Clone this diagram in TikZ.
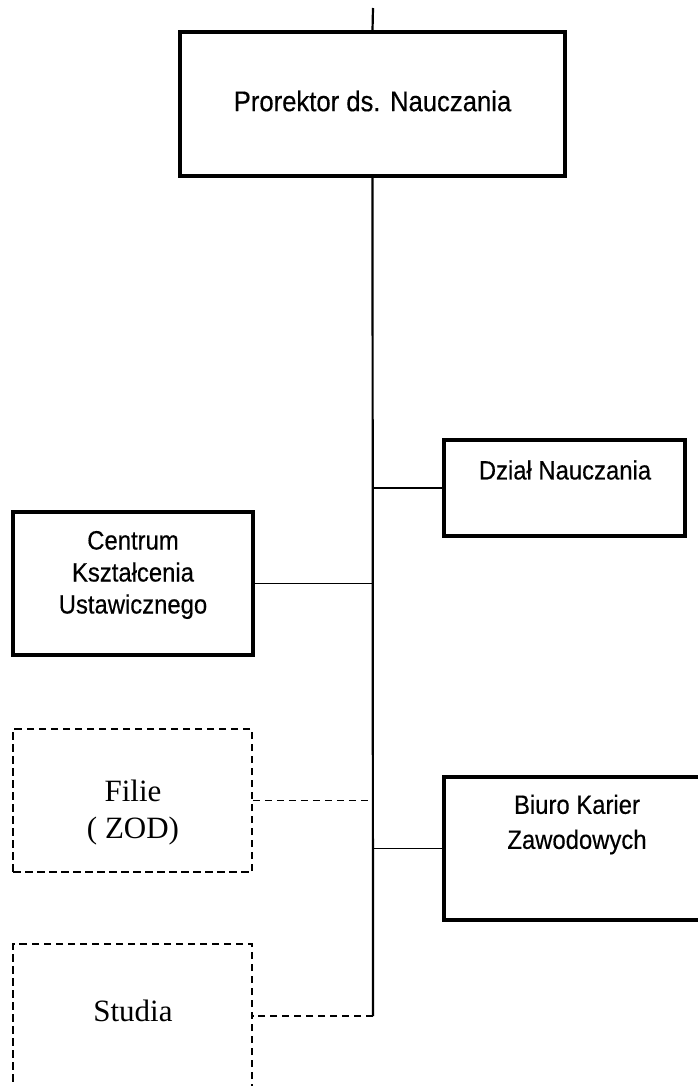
\documentclass[tikz,border=0pt]{standalone}
\usepackage{fontspec}
\newfontfamily\arialf[FakeStretch=0.9,FakeBold=0.4]{Liberation Sans}
\newfontfamily\tnrf{Liberation Serif}
\begin{document}
\begin{tikzpicture}[x=1pt,y=-1pt,
  solidbox/.style={draw, line width=3.2pt, rectangle, inner sep=0pt},
  dashbox/.style={draw, line width=1.6pt, rectangle, inner sep=0pt, dash pattern=on 7.5pt off 4.5pt},
  lbl/.style={inner sep=0pt, align=center, font=\arialf\fontsize{26.5}{32}\selectfont},
  tlbl/.style={inner sep=0pt, align=center, font=\tnrf\fontsize{31}{37}\selectfont},
  conn/.style={line width=1.8pt},
  dconn/.style={line width=1.6pt, dash pattern=on 7.5pt off 4.5pt}]
\useasboundingbox (0,0) rectangle (698,1086);
% boxes
\node[solidbox, minimum width=385pt, minimum height=144pt] (prorektor) at (372.5,104) {};
\node[lbl, font=\arialf\fontsize{28.5}{30}\selectfont] (prorektorT) at (372.5,101) {Prorektor ds. Nauczania};
\node[solidbox, minimum width=241pt, minimum height=96pt] (dzial) at (564.5,488) {};
\node[lbl] (dzialT) at (565,470) {Dział Nauczania};
\node[solidbox, minimum width=240pt, minimum height=143pt] (centrum) at (133,583.5) {};
\node[lbl] (centrumT) at (133,575) {Centrum\\Kształcenia\\Ustawicznego};
\node[dashbox, minimum width=239pt, minimum height=143pt] (filie) at (132.5,800.5) {};
\node[tlbl] (filieT) at (133,813) {Filie\\( ZOD)};
\node[solidbox, minimum width=268pt, minimum height=143pt] (biuro) at (578,848.5) {};
\node[lbl, font=\arialf\fontsize{26.5}{35}\selectfont] (biuroT) at (577,824.5) {Biuro Karier\\Zawodowych};
\node[dashbox, minimum width=239pt, minimum height=148pt] (studia) at (132.5,1018) {};
\node[tlbl] (studiaT) at (133,1011) {Studia};
% spine
\coordinate (topEnd) at (373,8);
\coordinate (spineEnd) at (373,1016);
\draw[line width=2.2pt] (topEnd) -- (prorektor.north);
\draw[line width=2.2pt] (prorektor.south) -- (spineEnd);
% connectors
\draw[conn] (dzial.west -| spineEnd) -- (dzial.west);
\draw[conn] (centrum.east) -- (centrum.east -| spineEnd);
\draw[dconn] (filie.east) -- (filie.east -| spineEnd);
\draw[conn] (biuro.west -| spineEnd) -- (biuro.west);
\draw[dconn] (spineEnd) -- (spineEnd -| studia.east);
\end{tikzpicture}
\end{document}
